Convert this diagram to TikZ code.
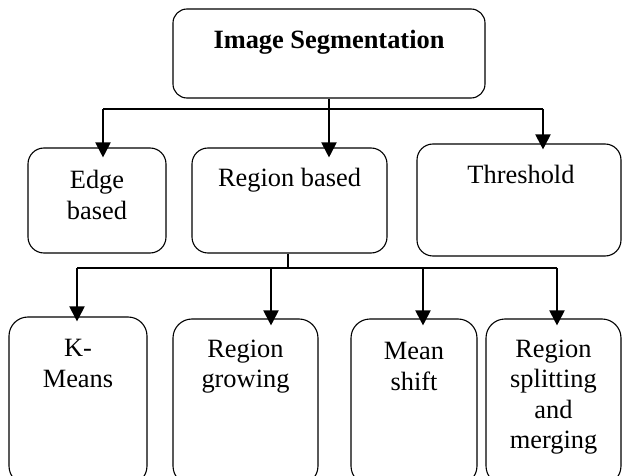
\documentclass[tikz,border=0pt]{standalone}
\usepackage{fontspec}
\setmainfont{Liberation Serif}
\usetikzlibrary{arrows.meta}
\tikzset{
  box/.style={draw=black, line width=1.1pt, rounded corners=#1, inner sep=0pt, fill=white},
  box/.default=16pt,
  txt/.style={align=center, inner sep=0pt, font=\fontsize{26.4}{30.5}\selectfont},
  conn/.style={line width=2pt, black},
  arr/.style={conn, -{Triangle[length=15pt,width=15pt]}}
}
\begin{document}
\begin{tikzpicture}[x=1pt,y=-1pt]
\useasboundingbox (0,0) rectangle (622,476);
\begin{scope}
\clip (0,0) rectangle (622,476);
% top box
\node[box=14pt, minimum width=312pt, minimum height=89pt] (top) at (329,53.5) {};
\node[txt, font=\fontsize{26.4}{30.5}\selectfont\bfseries] (topt) at (329,42) {Image Segmentation};
% second row
\node[box, minimum width=138pt, minimum height=105pt] (edge) at (97,200.5) {};
\node[txt] (edget) at (97,195) {Edge\\based};
\node[box, minimum width=195pt, minimum height=105pt] (region) at (289.5,200.5) {};
\node[txt] (regiont) at (289.5,180) {Region based};
\node[box, minimum width=204pt, minimum height=112pt] (thr) at (519,200) {};
\node[txt] (thrt) at (521,174) {Threshold};
% third row
\node[box=19pt, minimum width=138pt, minimum height=168pt] (km) at (78,401) {};
\node[txt] (kmt) at (78,363.5) {K-\\Means};
\node[box=19pt, minimum width=145pt, minimum height=166pt] (rg) at (245.5,402) {};
\node[txt] (rgt) at (245.5,366.5) {Region\\growing};
\node[box=19pt, minimum width=126pt, minimum height=166pt] (ms) at (414,402) {};
\node[txt] (mst) at (414,366.5) {Mean\\shift};
\node[box=19pt, minimum width=135pt, minimum height=166pt] (rs) at (553.5,402) {};
\node[txt] (rst) at (553.5,397) {Region\\splitting\\and\\merging};
\end{scope}
% first level connectors
\coordinate (j0) at (top.south |- 0,109);
\coordinate (j1) at (103,109);
\coordinate (j3) at (543,109);
\draw[conn] (top.south) -- (j0);
\draw[conn] (j1) -- (j3);
\draw[arr] (j1) -- ([yshift=-10pt]j1 |- edge.north);
\draw[arr] (j0) -- ([yshift=-10pt]j0 |- region.north);
\draw[arr] (j3) -- ([yshift=-6pt]j3 |- thr.north);
% second level connectors
\coordinate (k0) at (288,268);
\coordinate (k1) at (77,268);
\coordinate (k2) at (271,268);
\coordinate (k3) at (423,268);
\coordinate (k4) at (557,268);
\draw[line width=1.1pt] (k0 |- region.south) -- (k0);
\draw[conn] (k1) -- (k4);
\draw[arr] (k1) -- ([yshift=-5pt]k1 |- km.north);
\draw[arr] (k2) -- ([yshift=-7pt]k2 |- rg.north);
\draw[arr] (k3) -- ([yshift=-7pt]k3 |- ms.north);
\draw[arr] (k4) -- ([yshift=-7pt]k4 |- rs.north);
\end{tikzpicture}
\end{document}
